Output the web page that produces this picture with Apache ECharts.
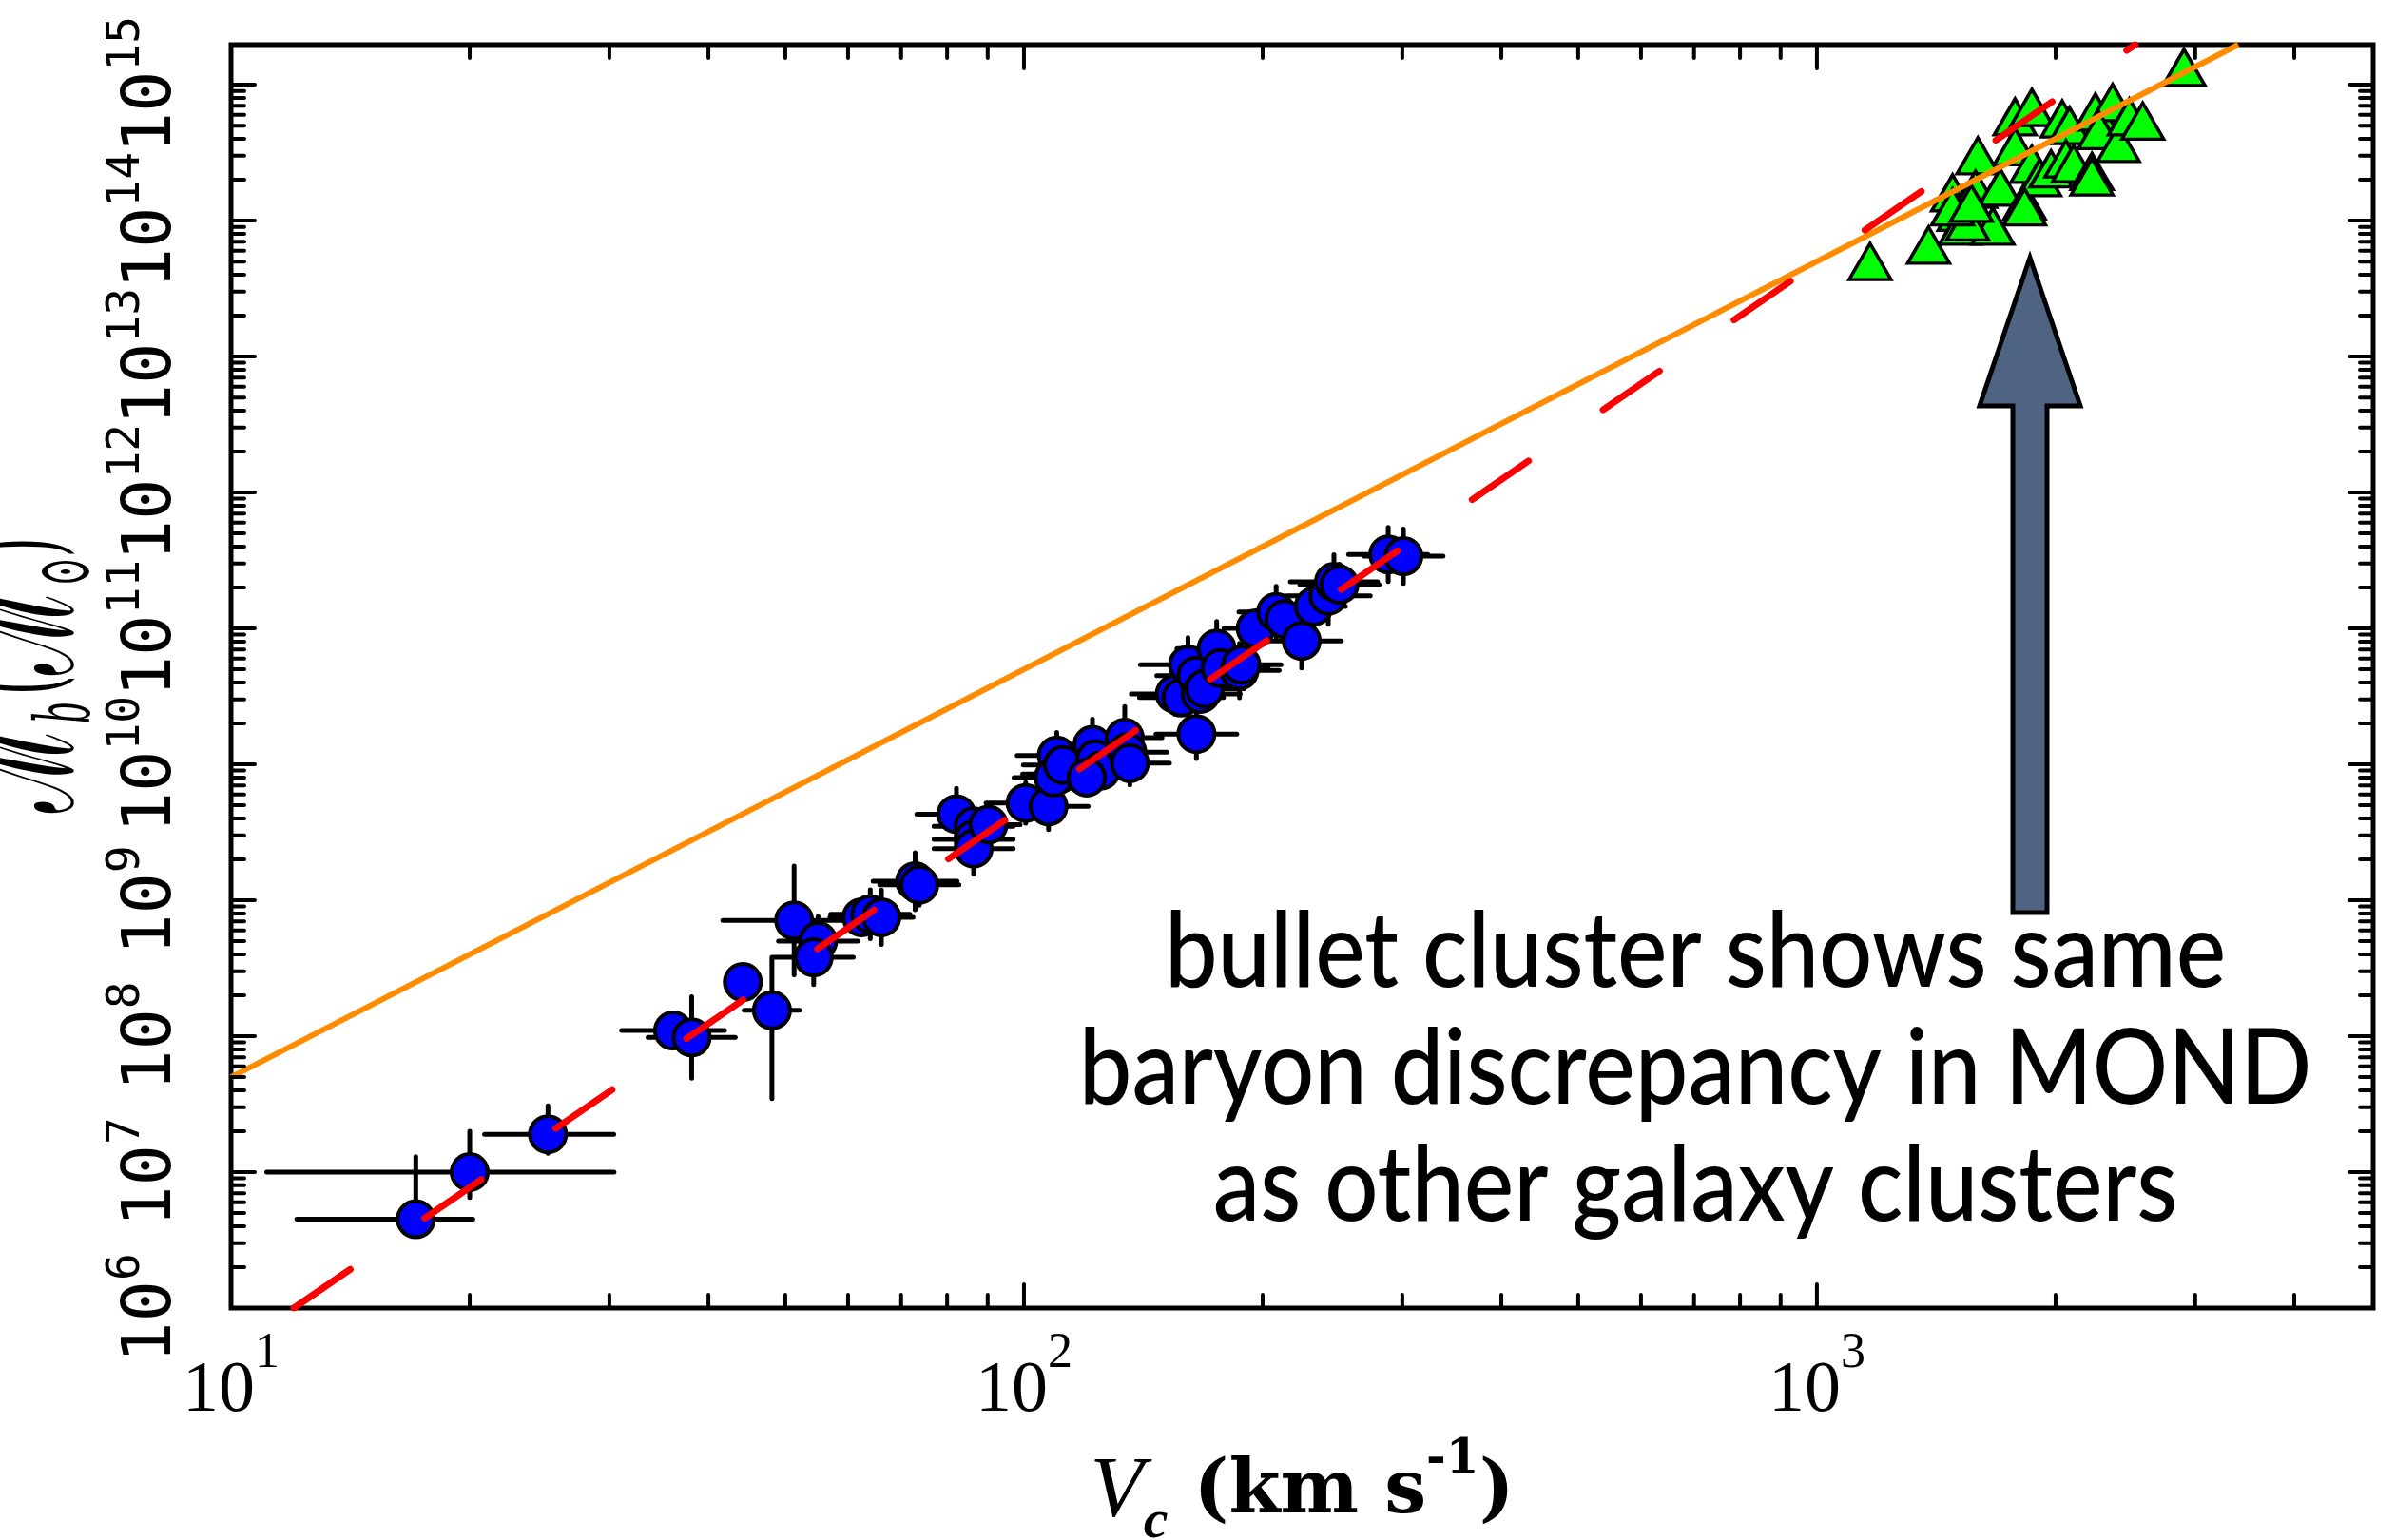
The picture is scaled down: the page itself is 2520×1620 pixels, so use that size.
<!DOCTYPE html>
<html><head><meta charset="utf-8">
<script src="https://cdn.jsdelivr.net/npm/echarts@6.0.0/dist/echarts.min.js"></script>
<style>html,body{margin:0;padding:0;background:#fff}#c{width:2520px;height:1620px}</style>
</head><body><div id="c"></div><script>
// ---------- axis / tick data ----------
const xDecades = [1, 2, 3];
const yDecades = [6, 7, 8, 9, 10, 11, 12, 13, 14, 15];
const minorMult = [2, 3, 4, 5, 6, 7, 8, 9];
const xMin = 10, xMax = 5030, yMin = 1e6, yMax = 1.97e15;

// ---------- galaxies (blue circles) ----------
const galV = [17.1, 20.0, 25.1, 36.1, 38.1, 44.2, 48.1, 51.3, 55.0, 54.3, 62.4, 64.0, 66.1, 72.9, 73.8, 82.2, 86.4, 86.4, 86.4, 90.2, 100.5, 107.4, 110, 111, 109, 112, 122, 123, 125, 120, 134, 135, 136, 165, 155, 158, 161, 165, 167, 169, 175, 177, 187, 188, 196, 208, 213, 224, 232, 242, 246, 250, 288, 301];
const galM = [4.5e6, 1.0e7, 1.9e7, 1.10e8, 9.8e7, 2.5e8, 1.55e8, 7.1e8, 5.0e8, 3.8e8, 7.5e8, 7.9e8, 7.5e8, 1.38e9, 1.3e9, 4.3e9, 3.5e9, 2.8e9, 2.4e9, 3.6e9, 5.2e9, 4.9e9, 1.16e10, 8.5e9, 8.0e9, 9.9e9, 1.39e10, 1.09e10, 9.0e9, 8.0e9, 1.57e10, 1.23e10, 1.02e10, 1.67e10, 3.3e10, 3.1e10, 5.4e10, 4.5e10, 3.3e10, 3.6e10, 7.1e10, 5.1e10, 4.9e10, 5.4e10, 1.0e11, 1.32e11, 1.17e11, 8.1e10, 1.45e11, 1.74e11, 2.2e11, 2.1e11, 3.5e11, 3.4e11];
// error bars in dex (low side / high side)
const galVerrLo = [0.15, 0.256, 0.08, 0.065, 0.055, 0.02, 0.035, 0.09, 0.05, 0.05, 0.04, 0.05, 0.04, 0.053, 0.05, 0.05, 0.05, 0.05, 0.05, 0.04, 0.05, 0.05, 0.05, 0.047, 0.05, 0.05, 0.05, 0.05, 0.05, 0.05, 0.047, 0.05, 0.05, 0.051, 0.055, 0.053, 0.06, 0.05, 0.05, 0.05, 0.05, 0.06, 0.05, 0.05, 0.04, 0.047, 0.05, 0.05, 0.04, 0.053, 0.055, 0.05, 0.05, 0.05];
const galVerrHi = [0.072, 0.182, 0.083, 0.065, 0.055, 0.02, 0.035, 0.09, 0.05, 0.05, 0.04, 0.05, 0.04, 0.053, 0.05, 0.05, 0.05, 0.05, 0.05, 0.04, 0.05, 0.05, 0.05, 0.047, 0.05, 0.05, 0.05, 0.05, 0.05, 0.05, 0.047, 0.05, 0.05, 0.051, 0.055, 0.053, 0.06, 0.05, 0.05, 0.05, 0.05, 0.06, 0.05, 0.05, 0.04, 0.047, 0.05, 0.05, 0.04, 0.053, 0.055, 0.05, 0.05, 0.05];
const galMerrLo = [0.12, 0.187, 0.14, 0.05, 0.3, 0.05, 0.65, 0.4, 0.18, 0.2, 0.1, 0.18, 0.2, 0.21, 0.15, 0.19, 0.12, 0.1, 0.19, 0.1, 0.15, 0.17, 0.17, 0.1, 0.1, 0.12, 0.19, 0.12, 0.13, 0.1, 0.23, 0.15, 0.16, 0.18, 0.15, 0.12, 0.2, 0.15, 0.12, 0.12, 0.2, 0.15, 0.2, 0.15, 0.12, 0.19, 0.15, 0.2, 0.15, 0.21, 0.2, 0.15, 0.2, 0.2];
const galMerrHi = [0.46, 0.30, 0.21, 0.05, 0.3, 0.05, 0.39, 0.4, 0.18, 0.2, 0.1, 0.18, 0.2, 0.21, 0.15, 0.19, 0.12, 0.1, 0.19, 0.1, 0.15, 0.17, 0.17, 0.1, 0.1, 0.12, 0.19, 0.12, 0.13, 0.1, 0.23, 0.15, 0.16, 0.18, 0.15, 0.12, 0.2, 0.15, 0.12, 0.12, 0.2, 0.15, 0.2, 0.15, 0.12, 0.19, 0.15, 0.2, 0.15, 0.21, 0.2, 0.15, 0.2, 0.2];

// ---------- galaxy clusters (green triangles) ----------
const cluV = [2904, 1167, 1383, 1483, 1511, 1535, 1517, 1596, 1585, 1667, 1703, 1778, 1867, 1778, 1828, 1867, 1910, 1974, 2039, 2083, 2061, 2107, 2223, 2245, 2360, 2270, 2400, 2478, 2576, 1549, 1483, 1566, 2223, 1828];
const cluM = [1.34e15, 5.0e13, 6.6e13, 1.6e14, 1.15e14, 9.8e13, 9.1e13, 3.0e14, 1.7e14, 9.1e13, 1.76e14, 5.8e14, 6.8e14, 3.5e14, 1.38e14, 2.6e14, 2.07e14, 2.4e14, 5.6e14, 5.0e14, 2.85e14, 2.63e14, 2.3e14, 6.3e14, 7.4e14, 4.6e14, 3.7e14, 5.8e14, 5.4e14, 9.8e13, 1.26e14, 1.34e14, 2.1e14, 1.26e14];

// ---------- relations (end points) ----------
const orangeLine = [[10, 5.0e7], [3400, 1.97e15]];   // slope 3
const redLine = [[12.0, 1.0e6], [2520, 1.97e15]];    // slope 4

// ---------- ticks ----------
const xMajorTicks = xDecades.map(e => Math.pow(10, e));
const yMajorTicks = yDecades.map(e => Math.pow(10, e));
const xMinorTicks = [];
xDecades.forEach(e => minorMult.forEach(k => { const v = k * Math.pow(10, e); if (v < xMax * 0.98) xMinorTicks.push(v); }));
const yMinorTicks = [];
yDecades.forEach(e => minorMult.forEach(k => { const v = k * Math.pow(10, e); if (v < yMax * 0.98) yMinorTicks.push(v); }));

function isPow10(v) { const l = Math.log10(v); return Math.abs(l - Math.round(l)) < 1e-6; }

function tickSeries(values, isX, len) {
  return {
    type: 'custom', silent: true, z: 8, clip: false,
    data: values.map(v => isX ? [v, yMin * 10] : [xMin * 2, v]),
    encode: { x: 0, y: 1 },
    renderItem: function (params, api) {
      const cs = params.coordSys;
      const p = api.coord([api.value(0), api.value(1)]);
      const st = { stroke: '#000', lineWidth: 4, lineCap: 'round' };
      if (isX) {
        const yb = cs.y + cs.height, yt = cs.y;
        return { type: 'group', children: [
          { type: 'line', shape: { x1: p[0], y1: yb, x2: p[0], y2: yb - len }, style: st },
          { type: 'line', shape: { x1: p[0], y1: yt, x2: p[0], y2: yt + len }, style: st }
        ]};
      } else {
        const xl = cs.x, xr = cs.x + cs.width;
        return { type: 'group', children: [
          { type: 'line', shape: { x1: xl, y1: p[1], x2: xl + len, y2: p[1] }, style: st },
          { type: 'line', shape: { x1: xr, y1: p[1], x2: xr - len, y2: p[1] }, style: st }
        ]};
      }
    }
  };
}

const errData = galV.map((v, i) => [v, galM[i], galVerrLo[i], galVerrHi[i], galMerrLo[i], galMerrHi[i]]);

const chart = echarts.init(document.getElementById('c'), null, { renderer: 'canvas', width: 2520, height: 1620 });

const option = {
  animation: false,
  backgroundColor: '#fff',
  grid: { left: 243, top: 47, right: 24, bottom: 244, outerBoundsMode: 'none', containLabel: false,
          show: true, borderColor: '#000', borderWidth: 5, backgroundColor: 'transparent' },
  xAxis: {
    type: 'log', logBase: 10, min: xMin, max: xMax,
    axisLine: { show: false }, axisTick: { show: false }, splitLine: { show: false }, minorTick: { show: false },
    axisLabel: {
      margin: 22, color: '#000',
      formatter: v => (isPow10(v) && xDecades.includes(Math.round(Math.log10(v)))) ? '{b|10}{s|' + Math.round(Math.log10(v)) + '}' : '',
      rich: {
        b: { fontFamily: 'Liberation Serif', fontSize: 76, color: '#000', verticalAlign: 'bottom', lineHeight: 104 },
        s: { fontFamily: 'Liberation Serif', fontSize: 52, color: '#000', verticalAlign: 'top', lineHeight: 104 }
      }
    },
    name: '{v|V}{c|c}{t| (km s}{e|-1}{t|)}',
    nameLocation: 'middle', nameGap: 135, nameMoveOverlap: false,
    nameTextStyle: {
      color: '#000',
      rich: {
        v: { fontFamily: 'Liberation Serif', fontStyle: 'italic', fontSize: 92, color: '#000', verticalAlign: 'middle', lineHeight: 120 },
        c: { fontFamily: 'Liberation Serif', fontStyle: 'italic', fontWeight: 'bold', fontSize: 58, color: '#000', verticalAlign: 'bottom', lineHeight: 120 },
        t: { fontFamily: 'DejaVu Serif', fontWeight: 'bold', fontSize: 78, color: '#000', verticalAlign: 'middle', lineHeight: 120 },
        e: { fontFamily: 'DejaVu Serif', fontWeight: 'bold', fontSize: 50, color: '#000', verticalAlign: 'top', lineHeight: 120 }
      }
    }
  },
  yAxis: {
    type: 'log', logBase: 10, min: yMin, max: yMax,
    axisLine: { show: false }, axisTick: { show: false }, splitLine: { show: false }, minorTick: { show: false },
    axisLabel: {
      rotate: 90, margin: 47, color: '#000',
      formatter: v => (isPow10(v) && yDecades.includes(Math.round(Math.log10(v)))) ? '{b|10}{s|' + Math.round(Math.log10(v)) + '}' : '',
      rich: {
        b: { fontFamily: 'DejaVu Sans Mono', fontSize: 72, color: '#000', verticalAlign: 'bottom', lineHeight: 86 },
        s: { fontFamily: 'DejaVu Sans Mono', fontSize: 48, color: '#000', verticalAlign: 'top', lineHeight: 86 }
      }
    }
  },
  series: [
    {
      type: 'custom', name: 'errors', z: 2, silent: true,
      data: errData, encode: { x: 0, y: 1 },
      renderItem: function (params, api) {
        const v = api.value(0), m = api.value(1);
        const c = api.coord([v, m]);
        const xl = api.coord([v / Math.pow(10, api.value(2)), m])[0];
        const xr = api.coord([v * Math.pow(10, api.value(3)), m])[0];
        const yl = api.coord([v, m / Math.pow(10, api.value(4))])[1];
        const yh = api.coord([v, m * Math.pow(10, api.value(5))])[1];
        const st = { stroke: '#000', lineWidth: 5, lineCap: 'round' };
        return { type: 'group', children: [
          { type: 'line', shape: { x1: xl, y1: c[1], x2: xr, y2: c[1] }, style: st },
          { type: 'line', shape: { x1: c[0], y1: yl, x2: c[0], y2: yh }, style: st }
        ]};
      }
    },
    {
      type: 'scatter', name: 'galaxies', z: 3, silent: true,
      data: galV.map((v, i) => [v, galM[i]]),
      symbol: 'circle', symbolSize: 38,
      itemStyle: { color: '#0000ff', borderColor: '#000', borderWidth: 4, opacity: 1 }
    },
    {
      type: 'scatter', name: 'clusters', z: 3, silent: true,
      data: cluV.map((v, i) => [v, cluM[i]]),
      symbol: 'triangle', symbolSize: [44, 38],
      itemStyle: { color: '#00ff00', borderColor: '#000', borderWidth: 3.5, opacity: 1 }
    },
    {
      type: 'line', name: 'slope3', z: 5, silent: true, data: orangeLine, symbol: 'none',
      lineStyle: { color: '#ff8c00', width: 6 }
    },
    {
      type: 'line', name: 'slope4', z: 6, silent: true, data: redLine, symbol: 'none',
      lineStyle: { color: '#ff0000', width: 7, type: [72, 95], cap: 'round', dashOffset: 0 }
    },
    tickSeries(xMajorTicks, true, 25),
    tickSeries(xMinorTicks, true, 14),
    tickSeries(yMajorTicks, false, 25),
    tickSeries(yMinorTicks, false, 14)
  ],
  graphic: [
    {
      type: 'text', z: 10, silent: true, x: 29, y: 710, rotation: Math.PI / 2, scaleX: 0.45, scaleY: 1,
      style: {
        text: '{m|ℳ}{sb|b}{sp| }{p|(}{m|ℳ}{sb|⊙}{p|)}',
        align: 'center', verticalAlign: 'middle', fill: '#000',
        rich: {
          m: { fontFamily: 'DejaVu Serif', fontSize: 180, fill: '#000', verticalAlign: 'middle', lineHeight: 168 },
          sb: { fontFamily: 'DejaVu Serif', fontStyle: 'italic', fontSize: 80, fill: '#000', verticalAlign: 'bottom', lineHeight: 168 },
          sp: { fontFamily: 'DejaVu Serif', fontSize: 48, fill: '#000', verticalAlign: 'middle', lineHeight: 168 },
          p: { fontFamily: 'DejaVu Serif', fontSize: 120, fill: '#000', verticalAlign: 'middle', lineHeight: 168 }
        }
      }
    },
    {
      type: 'polygon', z: 10, silent: true,
      shape: { points: [[2135, 271], [2188, 427], [2153, 427], [2153, 960], [2117, 960], [2117, 427], [2082, 427]] },
      style: { fill: '#4f6382', stroke: '#000', lineWidth: 5, lineJoin: 'miter' }
    },
    { type: 'text', z: 10, x: 1783, y: 1058, scaleX: 0.9, style: { text: 'bullet cluster shows same', font: '500 110px Lato', fill: '#000', align: 'center', verticalAlign: 'bottom' } },
    { type: 'text', z: 10, x: 1783, y: 1181, scaleX: 0.9, style: { text: 'baryon discrepancy in MOND', font: '500 110px Lato', fill: '#000', align: 'center', verticalAlign: 'bottom' } },
    { type: 'text', z: 10, x: 1783, y: 1304, scaleX: 0.9, style: { text: 'as other galaxy clusters', font: '500 110px Lato', fill: '#000', align: 'center', verticalAlign: 'bottom' } }
  ]
};
chart.setOption(option);
</script></body></html>
